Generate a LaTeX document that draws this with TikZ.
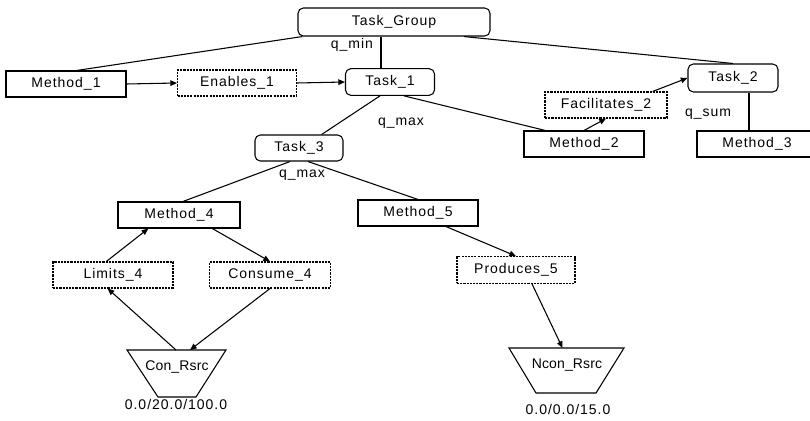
\documentclass[tikz,border=0pt]{standalone}
\usepackage{fontspec}
\setmainfont{Liberation Sans}[LetterSpace=7]
\usetikzlibrary{arrows.meta}
\begin{document}
\begin{tikzpicture}[x=0.75pt,y=-0.75pt,
  every node/.style={font=\fontsize{10.5pt}{12pt}\selectfont, inner sep=0pt},
  box/.style={draw, line width=0.8pt, rectangle, minimum width=90pt, minimum height=19.5pt},
  relbox/.style={box, dash pattern=on 1.6pt off 0.8pt},
  taskbox/.style={draw, line width=0.8pt, rounded corners=4pt, minimum width=66.75pt, minimum height=20pt},
  rsrc/.style={draw, line width=0.8pt, line join=miter},
  rsrctext/.style={font=\fontsize{10.5pt}{12pt}\selectfont\addfontfeature{LetterSpace=1}},
  link/.style={line width=0.8pt},
  arr/.style={line width=0.8pt, -{Triangle[length=5pt,width=4.2pt]}},
  lbl/.style={}
]
\clip (0,0) rectangle (810,421);
\fill[white] (0,0) rectangle (810,421);

\node[taskbox, minimum width=144pt, minimum height=21pt] (tg) at (394,22) {Task\_Group};
\node[box] (m1) at (66,84) {Method\_1};
\node[relbox, minimum width=89.25pt] (e1) at (237,83) {Enables\_1};
\node[taskbox] (t1) at (390,82) {Task\_1};
\node[taskbox, minimum width=67.5pt, minimum height=21pt] (t2) at (733,78) {Task\_2};
\node[relbox, minimum width=91.5pt] (f2) at (606,105) {Facilitates\_2};
\node[box] (m2) at (584,144) {Method\_2};
\node[box] (m3) at (757,144) {Method\_3};
\node[taskbox, minimum width=66pt, minimum height=19.5pt] (t3) at (299,148) {Task\_3};
\node[box, minimum width=91.5pt] (m4) at (179,215) {Method\_4};
\node[box] (m5) at (418,213) {Method\_5};
\node[relbox] (l4) at (113,275) {Limits\_4};
\node[relbox, minimum width=90.75pt] (c4) at (270,275) {Consume\_4};
\node[relbox, minimum width=88.5pt, minimum height=20pt] (p5) at (516,270) {Produces\_5};

% resource trapezoids
\coordinate (crtl) at (127,350);
\coordinate (crtr) at (226,350);
\coordinate (crbr) at (196,397);
\coordinate (crbl) at (158,397);
\coordinate (crtop) at (176,350);
\draw[rsrc] (crtl) -- (crtr) -- (crbr) -- (crbl) -- cycle;
\node[rsrctext] (cr) at (177,367) {Con\_Rsrc};

\coordinate (nrtl) at (509,348);
\coordinate (nrtr) at (624,348);
\coordinate (nrbr) at (596,393);
\coordinate (nrbl) at (536,393);
\coordinate (nrtop) at (566.5,348);
\draw[rsrc] (nrtl) -- (nrtr) -- (nrbr) -- (nrbl) -- cycle;
\node[rsrctext] (nr) at (567,365) {Ncon\_Rsrc};

\node[lbl] (lcr) at (176,404) {0.0/20.0/100.0};
\node[lbl] (lnr) at (568,409) {0.0/0.0/15.0};
\node[lbl] (qmin) at (352,45) {q\_min};
\node[lbl] (qmax1) at (401,123) {q\_max};
\node[lbl] (qmax2) at (302,175) {q\_max};
\node[lbl] (qsum) at (708,114) {q\_sum};

\draw[link] ([xshift=3.75pt]tg.south west) -- ([xshift=8pt]m1.north);
\draw[link] ([xshift=-6.75pt]t1.north) -- ([xshift=-6.75pt]t1.north |- tg.south);
\draw[link] ([xshift=-20pt]tg.south east) -- (t2.north);
\draw[arr] (m1.east) -- (e1.west);
\draw[arr] (e1.east) -- (t1.west);
\draw[link] ([xshift=-7.5pt]t1.south) -- ([xshift=17pt]t3.north);
\draw[link] ([xshift=10.5pt]t1.south) -- ([xshift=-29pt]m2.north);
\draw[arr] (m2.north) -- (f2.south);
\draw[arr] ([xshift=35pt]f2.north) -- (t2.west);
\draw[link] ([xshift=12pt]t2.south) -- ([xshift=12pt]t2.south |- m3.north);
\draw[link] ([xshift=-6.75pt]t3.south) -- ([xshift=3pt]m4.north);
\draw[link] ([xshift=6.75pt]t3.south) -- (m5.north);
\draw[arr] ([xshift=-5pt]l4.north) -- ([xshift=-23pt]m4.south);
\draw[arr] ([xshift=25pt]m4.south) -- (c4.north);
\draw[arr] (crtop) -- ([xshift=-4pt]l4.south);
\draw[arr] (c4.south) -- ([xshift=10.5pt]crtop);
\draw[arr] ([xshift=21pt]m5.south) -- (p5.north);
\draw[arr] ([xshift=12pt]p5.south) -- ([xshift=-3pt]nrtop);
\end{tikzpicture}
\end{document}
